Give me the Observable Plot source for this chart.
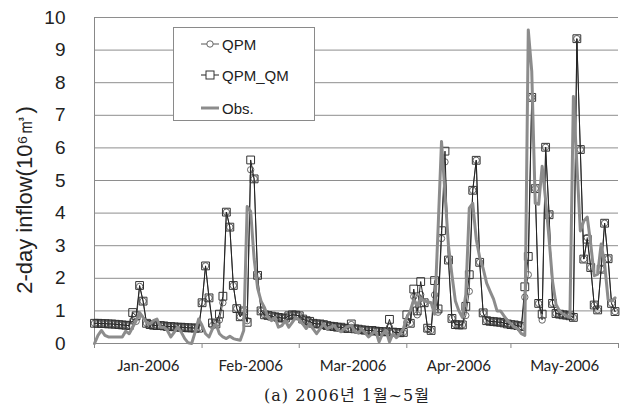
<!DOCTYPE html>
<html><head><meta charset="utf-8">
<script src="https://cdn.jsdelivr.net/npm/d3@7"></script>
<script src="https://cdn.jsdelivr.net/npm/@observablehq/plot@0.6"></script>
<style>
body{margin:0;background:#fff;}
#wrap{position:relative;width:621px;height:412px;overflow:hidden;}
#legend{position:absolute;left:173px;top:27px;width:142px;height:94px;box-sizing:border-box;border:1px solid #8a8a8a;background:#fff;font-family:"Liberation Sans",Arial,sans-serif;font-size:15px;color:#222;}
.item{position:absolute;left:26px;height:20px;display:flex;align-items:center;}
.item svg{margin-right:2px;}
#ylabel{position:absolute;left:25px;top:200px;transform:translate(-50%,-50%) rotate(-90deg);font-family:"Liberation Sans",Arial,sans-serif;font-size:22px;color:#222;white-space:nowrap;}
#caption{position:absolute;left:247px;top:384px;width:200px;text-align:center;font-family:"DejaVu Serif","Noto Sans CJK KR",serif;font-size:16px;line-height:24px;letter-spacing:1px;color:#222;white-space:nowrap;}
</style></head><body><div id="wrap"></div>
<script>
// Daily series, 1 Jan 2006 to 31 May 2006
const startDay = "2006-01-01";
const monthLabels = ["Jan-2006","Feb-2006","Mar-2006","Apr-2006","May-2006"];
const yTicks = [0,1,2,3,4,5,6,7,8,9,10];
const seriesNames = ["QPM","QPM_QM","Obs."];
const caption = "(a) 2006년 1월~5월";
const yLabel = "2-day inflow(10⁶㎥)";

const qpmQm = [
 0.62,0.62,0.61,0.61,0.60,0.60,0.59,0.58,0.57,0.56,0.55,0.95,0.85,1.78,1.30,0.62,0.58,0.56,0.55,0.55,0.54,0.52,0.52,0.51,0.50,0.50,0.49,0.48,0.48,0.47,0.47,
 1.25,2.38,1.40,0.63,0.60,0.90,1.45,4.03,3.57,1.78,1.07,0.82,1.00,0.65,5.63,5.05,2.09,1.00,0.88,0.86,0.84,0.82,0.80,0.78,0.78,0.85,0.88,0.87,
 0.85,0.75,0.70,0.68,0.62,0.60,0.60,0.58,0.55,0.53,0.52,0.50,0.50,0.47,0.46,0.60,0.45,0.44,0.42,0.41,0.40,0.40,0.38,0.37,0.36,0.36,0.74,0.35,0.34,0.33,0.34,
 0.88,0.62,1.67,1.00,1.90,1.25,0.47,0.40,1.93,1.06,3.46,5.90,2.56,0.77,0.58,0.57,0.57,1.14,2.11,4.70,5.62,2.49,0.94,0.70,0.68,0.67,0.66,0.65,0.63,0.60,
 0.58,0.57,0.55,0.52,1.74,2.67,7.55,4.75,1.23,0.90,6.02,3.95,1.23,0.92,0.90,0.88,0.87,0.85,0.80,9.35,5.95,2.59,3.20,2.33,1.18,1.03,2.28,3.69,2.60,1.23,0.98
];
const qpm = [
 0.62,0.62,0.61,0.61,0.60,0.60,0.59,0.58,0.57,0.56,0.55,0.70,0.68,1.75,1.30,0.62,0.58,0.56,0.55,0.55,0.54,0.52,0.52,0.51,0.50,0.50,0.49,0.48,0.48,0.47,0.47,
 1.25,2.38,1.40,0.55,0.60,0.72,1.25,4.03,3.57,1.78,1.07,0.82,1.00,0.70,5.33,5.05,2.09,1.00,0.88,0.86,0.84,0.82,0.80,0.78,0.78,0.85,0.88,0.87,
 0.85,0.75,0.70,0.68,0.62,0.60,0.60,0.58,0.55,0.53,0.52,0.50,0.50,0.47,0.46,0.58,0.45,0.44,0.42,0.41,0.40,0.40,0.38,0.37,0.36,0.36,0.50,0.35,0.34,0.33,0.34,
 0.65,0.62,1.44,0.88,1.50,1.25,0.45,0.40,1.49,0.96,3.22,5.57,2.56,0.77,0.58,0.57,0.57,0.86,1.60,4.70,5.62,2.49,0.94,0.70,0.68,0.67,0.66,0.65,0.63,0.60,
 0.58,0.57,0.55,0.52,1.42,2.11,7.55,4.75,1.23,0.72,6.02,3.95,1.23,0.92,0.90,0.88,0.87,0.85,0.80,9.35,5.95,2.59,3.25,2.33,1.18,1.03,2.28,3.69,2.60,1.23,0.98
];
const obs = [
 0.00,0.25,0.40,0.25,0.20,0.20,0.20,0.20,0.20,0.38,0.30,0.50,0.70,0.95,0.80,0.65,0.60,0.70,0.75,0.50,0.50,0.40,0.20,0.35,0.50,0.35,0.15,0.02,0.00,0.35,0.75,
 0.55,0.30,0.20,0.45,0.60,0.30,0.20,0.15,0.22,0.15,0.12,0.10,0.40,4.20,4.05,2.60,1.70,1.30,1.10,0.80,0.70,0.80,0.50,0.55,0.70,0.50,0.65,0.80,
 0.72,0.60,0.46,0.60,0.45,0.30,0.45,0.60,0.45,0.50,0.55,0.42,0.36,0.45,0.52,0.56,0.38,0.32,0.45,0.32,0.20,0.30,0.40,0.05,0.30,0.40,0.05,0.30,0.18,0.30,0.45,
 0.80,1.00,1.35,1.15,1.40,1.30,1.28,1.25,0.90,3.50,6.20,4.60,3.00,2.10,1.30,1.00,0.80,1.50,4.15,4.30,3.20,2.64,2.30,1.85,1.60,1.36,1.00,1.00,0.85,0.70,
 0.60,0.50,0.45,0.30,0.25,9.62,8.35,4.30,4.27,5.44,4.40,3.20,1.90,1.20,1.00,0.90,0.85,0.80,7.58,5.50,3.45,3.76,3.88,3.05,2.08,2.13,3.05,2.44,1.35,1.30,1.40
];

const t0 = new Date(startDay + "T00:00:00Z");
const rows = qpmQm.map((v, i) => ({date: d3.utcDay.offset(t0, i), qpm: qpm[i], qpmQm: v, obs: obs[i]}));
const monthStarts = d3.utcMonth.range(t0, d3.utcMonth.offset(t0, 6));
const monthMids = monthLabels.map((_, k) => new Date((+monthStarts[k] + +monthStarts[k + 1]) / 2));

const chart = Plot.plot({
  width: 621, height: 375,
  marginLeft: 94, marginRight: 3, marginTop: 17, marginBottom: 32,
  x: {type: "utc", domain: [monthStarts[0], monthStarts[5]]},
  y: {domain: [0, 10]},
  style: {background: "#fff", color: "#222"},
  marks: [
    Plot.gridY(yTicks, {stroke: "#8e8e8e", strokeOpacity: 1, strokeWidth: 1}),
    Plot.axisY(yTicks, {tickSize: 0, tickPadding: 29, fontSize: 19, fontFamily: "Liberation Sans", label: null, tickFormat: d => String(d)}),
    Plot.axisX(monthStarts, {tickSize: 5, stroke: "#888", tickFormat: () => "", label: null}),
    Plot.axisX(monthMids, {tickSize: 0, tickPadding: 17, fontSize: 15, fontFamily: "Lato", tickFormat: d => monthLabels[d.getUTCMonth()], label: null}),
    Plot.ruleX([monthStarts[0]], {stroke: "#888"}),
    Plot.ruleY([0], {stroke: "#888"}),
    Plot.line(rows, {x: "date", y: "qpm", stroke: "#555", strokeWidth: 1}),
    Plot.dot(rows, {x: "date", y: "qpm", symbol: "circle", r: 3.2, stroke: "#666", fill: "none", strokeWidth: 1}),
    Plot.line(rows, {x: "date", y: "qpmQm", stroke: "#222", strokeWidth: 1}),
    Plot.dot(rows, {x: "date", y: "qpmQm", symbol: "square", r: 4.4, stroke: "#333", fill: "none", strokeWidth: 1}),
    Plot.line(rows, {x: "date", y: "obs", stroke: "#8c8c8c", strokeWidth: 3})
  ]
});

const wrap = document.getElementById("wrap");
wrap.appendChild(chart);

const yl = document.createElement("div");
yl.id = "ylabel";
yl.textContent = yLabel;
wrap.appendChild(yl);

const legend = document.createElement("div");
legend.id = "legend";
const icons = [
  '<svg width="20" height="12"><line x1="1" y1="6" x2="19" y2="6" stroke="#555"/><circle cx="10" cy="6" r="3.2" fill="#fff" stroke="#666"/></svg>',
  '<svg width="20" height="12"><line x1="1" y1="6" x2="19" y2="6" stroke="#222"/><rect x="6" y="2" width="8" height="8" fill="#fff" stroke="#333"/></svg>',
  '<svg width="20" height="12"><line x1="1" y1="6" x2="19" y2="6" stroke="#8c8c8c" stroke-width="3"/></svg>'
];
const tops = [6, 37, 70];
seriesNames.forEach((name, k) => {
  const it = document.createElement("div");
  it.className = "item";
  it.style.top = tops[k] + "px";
  it.innerHTML = icons[k] + "<span>" + name + "</span>";
  legend.appendChild(it);
});
wrap.appendChild(legend);

const cap = document.createElement("div");
cap.id = "caption";
cap.textContent = caption;
wrap.appendChild(cap);
</script>
</body></html>
